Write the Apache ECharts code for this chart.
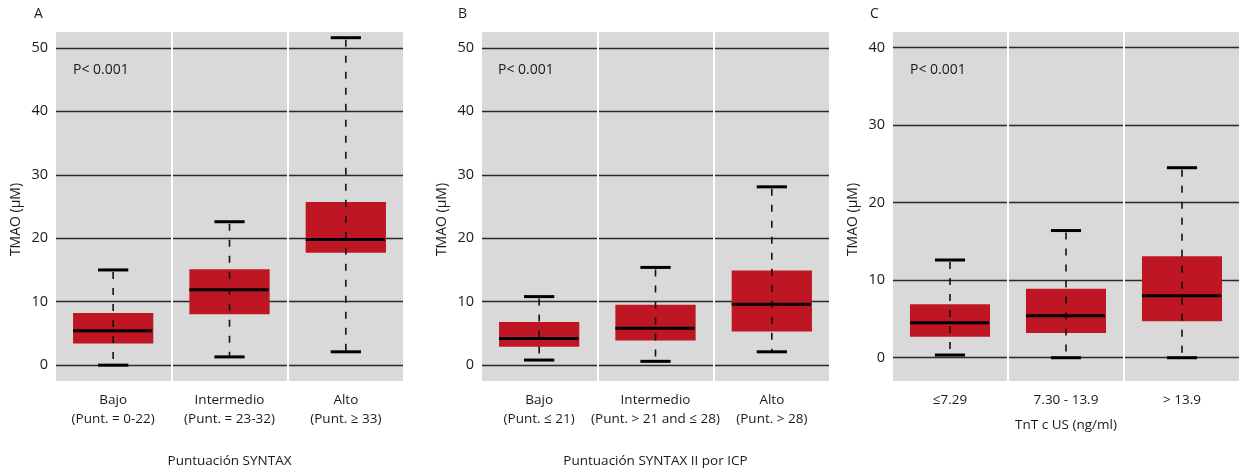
<!DOCTYPE html>
<html>
<head>
<meta charset="utf-8">
<script src="https://cdn.jsdelivr.net/npm/echarts@6/dist/echarts.min.js"></script>
<style>
  html, body { margin: 0; padding: 0; background: #fff; }
  #chart { width: 1240px; height: 474px; }
</style>
</head>
<body>
<div id="chart"></div>
<script>
// datos: [min, q1, mediana, q3, max]
const catsA = ['Bajo\n(Punt. = 0-22)', 'Intermedio\n(Punt. = 23-32)', 'Alto\n(Punt. ≥ 33)'];
const boxA = [[0, 3.4, 5.4, 8.2, 15.0], [1.3, 8.0, 11.9, 15.1, 22.6], [2.1, 17.7, 19.8, 25.7, 51.6]];

const catsB = ['Bajo\n(Punt. ≤ 21)', 'Intermedio\n(Punt. > 21 and ≤ 28)', 'Alto\n(Punt. > 28)'];
const boxB = [[0.8, 2.9, 4.2, 6.8, 10.8], [0.6, 3.9, 5.8, 9.5, 15.4], [2.1, 5.3, 9.6, 14.9, 28.1]];

const catsC = ['≤7.29', '7.30 - 13.9', '> 13.9'];
const boxC = [[0.35, 2.7, 4.5, 6.9, 12.6], [0, 3.2, 5.4, 8.9, 16.4], [0, 4.7, 8.0, 13.1, 24.5]];

const ticksAB = [0, 10, 20, 30, 40, 50];
const ticksC = [0, 10, 20, 30, 40];

const RED = '#be1622';
const FONT = 'Open Sans';
const TXT = '#1a1a1a';

function renderBox(params, api) {
    const x = api.value(0);
    const lo = api.coord([x, api.value(1)]);
    const q1 = api.coord([x, api.value(2)]);
    const md = api.coord([x, api.value(3)]);
    const q3 = api.coord([x, api.value(4)]);
    const hi = api.coord([x, api.value(5)]);
    const band = api.size([1, 0])[0];
    const bw = band * 0.69, cw = band * 0.26;
    const cx = lo[0];
    return {
        type: 'group',
        children: [
            { type: 'rect', shape: { x: cx - bw / 2, y: q3[1], width: bw, height: q1[1] - q3[1] }, style: { fill: RED } },
            { type: 'line', shape: { x1: cx - bw / 2, y1: md[1], x2: cx + bw / 2 - 1, y2: md[1] }, style: { stroke: '#000', lineWidth: 3 } },
            { type: 'line', shape: { x1: cx, y1: hi[1] + 2, x2: cx, y2: lo[1] }, style: { stroke: '#111', lineWidth: 1.6, lineDash: [7, 9] } },
            { type: 'line', shape: { x1: cx - cw / 2, y1: hi[1], x2: cx + cw / 2, y2: hi[1] }, style: { stroke: '#000', lineWidth: 3 } },
            { type: 'line', shape: { x1: cx - cw / 2, y1: lo[1], x2: cx + cw / 2, y2: lo[1] }, style: { stroke: '#000', lineWidth: 3 } }
        ]
    };
}

function xAx(idx, cats, name, gap) {
    return {
        type: 'category', gridIndex: idx, data: cats,
        name: name, nameLocation: 'middle', nameGap: gap,
        nameTextStyle: { fontFamily: FONT, fontSize: 13.5, color: TXT },
        axisLine: { show: false }, axisTick: { show: false },
        axisLabel: { fontFamily: FONT, fontSize: 13.5, color: TXT, lineHeight: 19, margin: 10, interval: 0 },
        splitLine: { show: true, lineStyle: { color: '#fff', width: 2 } },
        z: 3
    };
}

function yAx(idx, min, max, ticks) {
    return {
        type: 'value', gridIndex: idx, min: min, max: max,
        name: 'TMAO (µM)', nameLocation: 'middle', nameGap: 32, nameRotate: 90,
        nameTextStyle: { fontFamily: FONT, fontSize: 14, color: TXT, padding: [0, 26, 0, 0] },
        axisLine: { show: false },
        axisTick: { show: false, customValues: ticks },
        axisLabel: { customValues: ticks, fontFamily: FONT, fontSize: 14.5, color: TXT, margin: 7 },
        splitLine: { show: true, lineStyle: { color: '#2a2a2a', width: 1.3 } }
    };
}

function series(idx, box) {
    return {
        type: 'custom', xAxisIndex: idx, yAxisIndex: idx,
        renderItem: renderBox,
        encode: { x: 0, y: [1, 2, 3, 4, 5] },
        data: box.map((b, i) => [i].concat(b)),
        z: 5
    };
}

const gridStyle = { show: true, backgroundColor: '#d9d9d9', borderWidth: 0, top: 32, height: 349 };

const chart = echarts.init(document.getElementById('chart'), null, { renderer: 'canvas' });
chart.setOption({
    animation: false,
    grid: [
        Object.assign({ left: 55, width: 349 }, gridStyle),
        Object.assign({ left: 481, width: 349 }, gridStyle),
        Object.assign({ left: 892, width: 348 }, gridStyle)
    ],
    xAxis: [
        xAx(0, catsA, 'Puntuación SYNTAX', 73),
        xAx(1, catsB, 'Puntuación SYNTAX II por ICP', 73),
        xAx(2, catsC, 'TnT c US (ng/ml)', 37)
    ],
    yAxis: [
        yAx(0, -2.5, 52.5, ticksAB),
        yAx(1, -2.5, 52.5, ticksAB),
        yAx(2, -3, 42, ticksC)
    ],
    series: [series(0, boxA), series(1, boxB), series(2, boxC)],
    graphic: [
        { type: 'text', left: 34, top: 7, style: { text: 'A', font: '14px "Open Sans"', fill: TXT } },
        { type: 'text', left: 458, top: 7, style: { text: 'B', font: '14px "Open Sans"', fill: TXT } },
        { type: 'text', left: 870, top: 7, style: { text: 'C', font: '14px "Open Sans"', fill: TXT } },
        { type: 'text', left: 73, top: 63, style: { text: 'P< 0.001', font: '14px "Open Sans"', fill: TXT } },
        { type: 'text', left: 498, top: 63, style: { text: 'P< 0.001', font: '14px "Open Sans"', fill: TXT } },
        { type: 'text', left: 910, top: 63, style: { text: 'P< 0.001', font: '14px "Open Sans"', fill: TXT } }
    ]
});
</script>
</body>
</html>
